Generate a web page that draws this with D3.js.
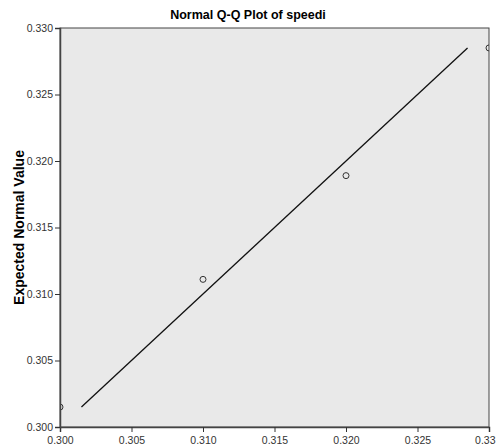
<!DOCTYPE html>
<html>
<head>
<meta charset="utf-8">
<title>Normal Q-Q Plot of speedi</title>
<script src="https://d3js.org/d3.v7.min.js"></script>
<style>
  body { margin: 0; background: #fff; }
  .tick text { font-family: "Liberation Sans Narrow", "Arial Narrow", "Liberation Sans", Arial, sans-serif; font-size: 10.5px; fill: #333; }
  .tick line { stroke: #333; }
  .domain { stroke: #444; }
</style>
</head>
<body>
<div id="chart"></div>
<script>
// observed speedi vs expected normal quantile
var observed = [0.300, 0.310, 0.320, 0.330];
var expected = [0.3015, 0.3111, 0.3189, 0.3285];
var xTicks = [0.300, 0.305, 0.310, 0.315, 0.320, 0.325, 0.330];
var yTicks = [0.300, 0.305, 0.310, 0.315, 0.320, 0.325, 0.330];

var width = 496, height = 446;
var margin = {top: 28, right: 7, bottom: 19, left: 60};
var w = width - margin.left - margin.right,
    h = height - margin.top - margin.bottom;

var svg = d3.select("#chart").append("svg")
  .attr("width", width)
  .attr("height", height);

var g = svg.append("g")
  .attr("transform", "translate(" + margin.left + "," + margin.top + ")");

var x = d3.scaleLinear().domain([0.300, 0.330]).range([0, w]);
var y = d3.scaleLinear().domain([0.300, 0.330]).range([h, 0]);

g.append("clipPath").attr("id", "clip")
  .append("rect").attr("width", w).attr("height", h);

g.append("rect")
  .attr("width", w)
  .attr("height", h)
  .attr("fill", "#e9e9e9")
  .attr("stroke", "#444")
  .attr("stroke-width", 1);

// reference line y = x across the range of expected values
var lo = d3.min(expected), hi = d3.max(expected);
g.append("line")
  .attr("x1", x(lo)).attr("y1", y(lo))
  .attr("x2", x(hi)).attr("y2", y(hi))
  .attr("stroke", "#111")
  .attr("stroke-width", 1.3);

g.append("g").attr("clip-path", "url(#clip)")
  .selectAll("circle")
  .data(observed)
  .enter()
  .append("circle")
  .attr("cx", function(d) { return x(d); })
  .attr("cy", function(d, i) { return y(expected[i]); })
  .attr("r", 3)
  .attr("fill", "none")
  .attr("stroke", "#333")
  .attr("stroke-width", 1);

var xAxis = g.append("g")
  .attr("transform", "translate(0," + h + ")")
  .call(d3.axisBottom(x).tickValues(xTicks).tickFormat(d3.format(".3f")).tickSize(5).tickPadding(5));
// last label sits against the window edge in the original
xAxis.selectAll(".tick text").filter(function(d) { return d === 0.330; })
  .text("0.33").attr("text-anchor", "end").attr("dx", 6);

g.append("g")
  .call(d3.axisLeft(y).tickValues(yTicks).tickFormat(d3.format(".3f")).tickSize(5).tickPadding(2));

g.selectAll(".domain").attr("stroke-width", 1.5);

svg.append("text")
  .attr("x", width / 2)
  .attr("y", 19)
  .attr("text-anchor", "middle")
  .attr("font-family", "'Liberation Sans Narrow', 'Liberation Sans', Arial, sans-serif")
  .attr("font-weight", "bold")
  .attr("font-size", 12.5)
  .text("Normal Q-Q Plot of speedi");

svg.append("text")
  .attr("transform", "translate(24," + (margin.top + h / 2) + ") rotate(-90)")
  .attr("text-anchor", "middle")
  .attr("font-family", "'Liberation Sans', Arial, sans-serif")
  .attr("font-weight", "bold")
  .attr("font-size", 14)
  .text("Expected Normal Value");
</script>
</body>
</html>
